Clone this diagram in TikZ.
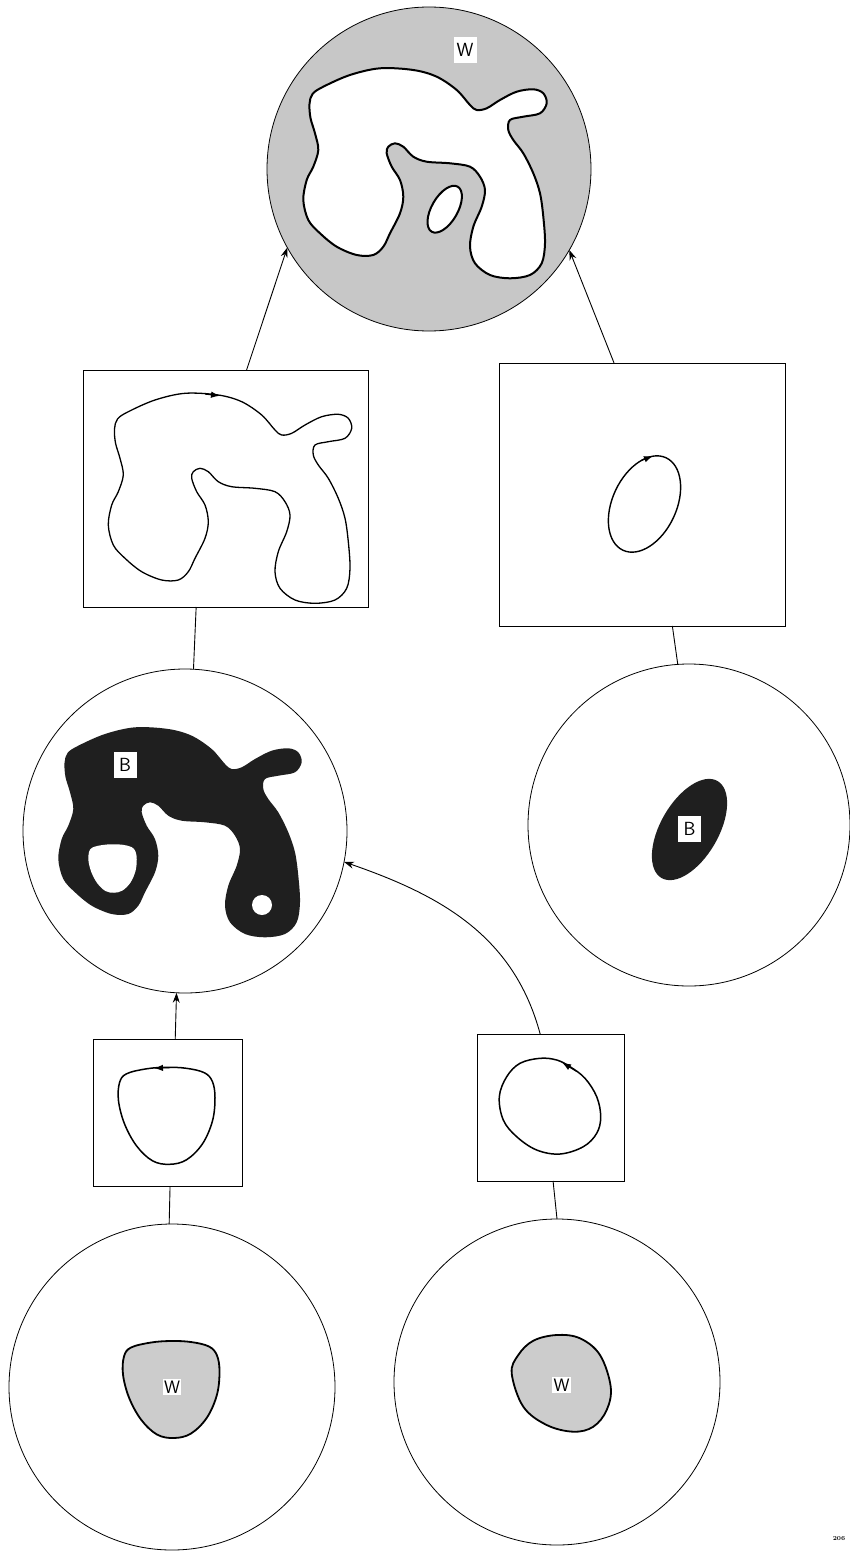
\documentclass[tikz,border=0pt]{standalone}
\usetikzlibrary{arrows.meta}
\definecolor{stip}{gray}{0.78}
\definecolor{stipb}{gray}{0.80}
\definecolor{darkb}{gray}{0.12}
\newcommand{\bigblob}[1]{\path[#1] plot[smooth cycle, tension=0.55] coordinates {(312.5,94) (309.5,104) (310.5,118) (315,133.3) (318.3,150) (313.3,166.7) (306.7,180) (303.3,200) (308.3,220) (320,233.3) (336.7,246.7) (356.7,255) (373.3,255) (383.3,246.7) (390,233.3) (400,213.3) (403.3,196.7) (400,180) (391.7,166.7) (386.7,153.3) (388.3,146.7) (395,143.3) (403.3,146.7) (413.3,156.7) (426.7,161.7) (450,163.3) (470,166.7) (480,176.7) (485,190) (481.7,206.7) (473.3,226.7) (470,246.7) (475,263.3) (490,275) (510,278.3) (530,275) (541.7,263.3) (545,243.3) (543.3,216.7) (540,193.3) (533.3,173.3) (523.3,153.3) (513.3,140) (508.3,130) (510,120) (523.3,116.7) (540,113.3) (546.7,103.3) (543.3,93.3) (533.3,89.3) (516.7,91.7) (500,100) (486.7,108.3) (476.7,110) (470,105) (456.7,90) (436.7,76.7) (413.3,70) (380,68.3) (350,75) (323.3,86.7)};}
\newcommand{\trishape}[1]{\path[#1] plot[smooth cycle, tension=0.6] coordinates {(-40,-42) (-20,-47) (0,-48.5) (20,-47.5) (38,-43) (46,-34) (48.5,-18) (46,5) (36,28) (20,44) (3,48.5) (-14,45) (-30,30) (-42,8) (-48,-15) (-47,-33)};}
\begin{document}
\begin{tikzpicture}[x=1pt,y=-1pt,
  thinframe/.style={draw, line width=0.8pt, inner sep=0pt, outer sep=0pt},
  circ/.style={thinframe, circle},
  sqbox/.style={thinframe, rectangle},
  conn/.style={line width=0.9pt},
  arr/.style={conn, -{Stealth[length=10pt,width=7pt]}},
  looparrow/.style={line width=1.2pt, -{Latex[length=9pt,width=6.5pt]}},
  lab/.style={fill=white, inner sep=0pt, minimum width=23pt, minimum height=26pt, font=\sffamily\fontsize{19}{19}\selectfont},
  labw/.style={fill=white, inner sep=1.5pt, font=\sffamily\fontsize{18}{18}\selectfont},
]
\fill[white] (0,0) rectangle (849,1552);
\useasboundingbox (0,0) rectangle (849,1552);

% top circle
\node[circ, fill=stip, minimum size=324pt] (topC) at (429,169) {};
\bigblob{fill=white, draw, line width=2pt}
\draw[fill=white, line width=2pt, rotate around={60:(444.7,209.2)}] (444.7,209.2) ellipse [x radius=26pt, y radius=13pt];
\node[lab] (wTop) at (465,50) {W};

% left rectangle with loop
\node[sqbox, minimum width=285pt, minimum height=237pt] (sqL) at (225.7,488.5) {};
\bigblob{draw, line width=1.3pt, shift={(-195,325)}}
\draw[looparrow] (205,394.0) -- (220,395.8);

% right rectangle with loop
\node[sqbox, minimum width=286pt, minimum height=263pt] (sqR) at (642,494.5) {};
\draw[line width=1.4pt, rotate around={65:(644.5,504)}] (644.5,504) ellipse [x radius=51pt, y radius=32pt];
\draw[looparrow] (641.5,460.3) -- (653,456);

% middle left circle
\node[circ, minimum size=324pt] (cB) at (185,831) {};
\bigblob{fill=darkb, shift={(-245,659)}}
\trishape{fill=white, shift={(112.5,868.5)}, scale=0.5}
\fill[white] (262,905) circle [radius=10pt];
\node[lab] (bL) at (125,765) {B};

% middle right circle
\node[circ, minimum size=322pt] (cR) at (689,825) {};
\fill[darkb, rotate around={60:(689.5,829.5)}] (689.5,829.5) ellipse [x radius=56pt, y radius=29pt];
\node[lab] (bR) at (689.5,829) {B};

% small left square
\node[sqbox, minimum width=149pt, minimum height=147pt] (sL) at (167.5,1112.5) {};
\trishape{draw, line width=1.5pt, shift={(166.5,1115.8)}}
\draw[looparrow] (170,1067.6) -- (154,1068.2);

% small right square
\node[sqbox, minimum width=147pt, minimum height=147pt] (sR) at (550.5,1107.5) {};
\draw[line width=1.5pt] plot[smooth cycle, tension=0.6] coordinates {(499.3,1096.7) (506.7,1076.7) (520,1063.3) (540,1058.3) (556.7,1060) (570,1066.7) (585,1078.3) (596.7,1096.7) (600.7,1116.7) (596.7,1133.3) (583.3,1146.7) (560,1154) (536.7,1150) (516.7,1136.7) (503.3,1120)};
\draw[looparrow] (576,1071) -- (562,1062.5);

% bottom circles
\node[circ, minimum size=326pt] (cBL) at (172,1387) {};
\trishape{fill=stipb, draw, line width=1.8pt, shift={(171,1389.5)}}
\node[labw] (wBL) at (172,1387) {W};

\node[circ, minimum size=326pt] (cBR) at (557,1382) {};
\draw[fill=stipb, line width=1.8pt] plot[smooth cycle, tension=0.6] coordinates {(511.7,1373.3) (518.3,1355) (533.3,1340.7) (556.7,1335) (580,1338.3) (600,1355) (610.7,1386.7) (606.7,1410) (593.3,1426.7) (573.3,1431.7) (546.7,1425) (523.3,1406.7)};
\node[labw] (wBR) at (561.7,1385) {W};

% connectors
\draw[arr] (sqL.80) -- (topC.209);
\draw[arr] (sqR.102) -- (topC.-30);
\draw[conn] (sqL.-104) -- (cB.87);
\draw[conn] (sqR.-77) -- (cR.94);
\draw[arr] (sL.84) -- (cB.-93.5);
\draw[arr] (sR.98) to[out=105, in=-19] (cB.-11);
\draw[conn] (sL.-88) -- (cBL.91);
\draw[conn] (sR.-88) -- (cBR.90);

\node[font=\fontsize{6}{6}\selectfont\bfseries] (pg) at (839,1539) {206};
\end{tikzpicture}
\end{document}
